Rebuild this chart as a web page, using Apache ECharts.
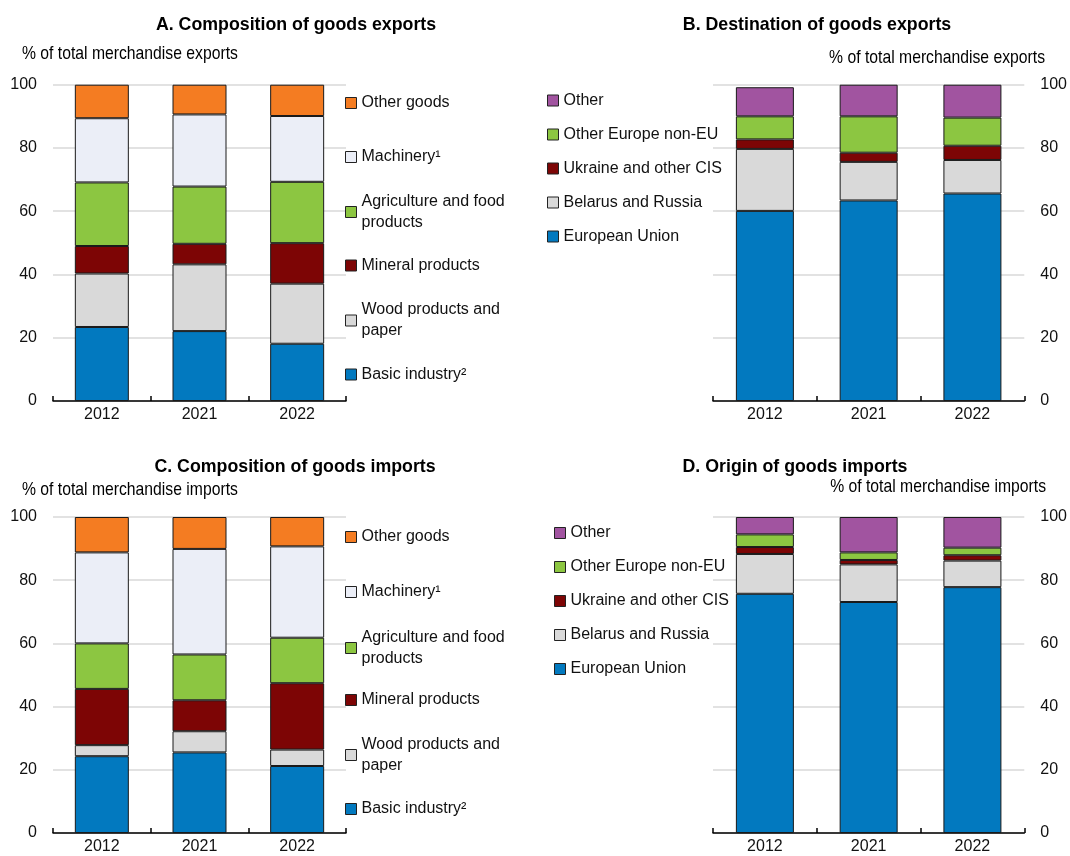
<!DOCTYPE html>
<html>
<head>
<meta charset="utf-8">
<script src="https://cdn.jsdelivr.net/npm/echarts@6/dist/echarts.min.js"></script>
<style>
  html, body { margin: 0; padding: 0; background: #fff; }
  #chart { width: 1070px; height: 856px; }
</style>
</head>
<body>
<div id="chart"></div>
<script>
// Categories
const years = ['2012', '2021', '2022'];
const yTicks = [0, 20, 40, 60, 80, 100];

// A. Composition of goods exports (% of total merchandise exports)
const expBasic = [23.4, 22.1, 18.1];
const expWood = [16.9, 21.1, 19.0];
const expMineral = [8.7, 6.5, 12.8];
const expAgri = [20.1, 18.1, 19.4];
const expMachinery = [20.3, 22.8, 20.8];
const expOtherGoods = [10.6, 9.4, 9.9];

// B. Destination of goods exports
const expEU = [60.1, 63.4, 65.6];
const expBelRus = [19.6, 12.2, 10.6];
const expUkrCIS = [3.0, 2.9, 4.5];
const expOtherEurope = [7.3, 11.5, 8.9];
const expOtherDest = [9.2, 10.0, 10.4];

// C. Composition of goods imports (% of total merchandise imports)
const impBasic = [24.3, 25.5, 21.2];
const impWood = [3.5, 6.7, 5.2];
const impMineral = [17.8, 9.8, 21.0];
const impAgri = [14.4, 14.5, 14.4];
const impMachinery = [28.8, 33.4, 28.9];
const impOtherGoods = [11.2, 10.1, 9.3];

// D. Origin of goods imports
const impEU = [75.7, 73.1, 77.8];
const impBelRus = [12.6, 11.9, 8.4];
const impUkrCIS = [2.2, 1.4, 1.7];
const impOtherEurope = [4.0, 2.4, 2.4];
const impOtherOrig = [5.5, 11.2, 9.7];

// Series names
const goodsNames = ['Basic industry²', 'Wood products and paper', 'Mineral products',
  'Agriculture and food products', 'Machinery¹', 'Other goods'];
const partnerNames = ['European Union', 'Belarus and Russia', 'Ukraine and other CIS',
  'Other Europe non-EU', 'Other'];

const FONT = "'Liberation Sans', Arial, sans-serif";
const FS = 16;          // axis and legend text
const FS_HEAD = 18.5;   // titles and unit notes, drawn condensed
const NARROW_TITLE = 0.96;
const NARROW_NOTE = 0.85;
const TXT = '#111';

const C_BLUE = '#0279bf';
const C_GREY = '#d9d9d9';
const C_RED = '#7d0505';
const C_GREEN = '#8cc641';
const C_LIGHT = '#ebeef7';
const C_ORANGE = '#f47c22';
const C_PURPLE = '#a154a0';

const goodsColors = [C_BLUE, C_GREY, C_RED, C_GREEN, C_LIGHT, C_ORANGE];
const partnerColors = [C_BLUE, C_GREY, C_RED, C_GREEN, C_PURPLE];

const expGoods = [expBasic, expWood, expMineral, expAgri, expMachinery, expOtherGoods];
const expPartners = [expEU, expBelRus, expUkrCIS, expOtherEurope, expOtherDest];
const impGoods = [impBasic, impWood, impMineral, impAgri, impMachinery, impOtherGoods];
const impPartners = [impEU, impBelRus, impUkrCIS, impOtherEurope, impOtherOrig];

// Wrapped legend labels
const wrapped = {
  'Wood products and paper': 'Wood products and\npaper',
  'Agriculture and food products': 'Agriculture and food\nproducts'
};

const chart = echarts.init(document.getElementById('chart'), null, { renderer: 'canvas' });

const grids = [
  { left: 53, top: 84.7, width: 293, height: 316.3 },
  { left: 713, top: 84.7, width: 313, height: 316.3 },
  { left: 53, top: 517, width: 293, height: 316 },
  { left: 713, top: 517, width: 313, height: 316 }
];

function xAxis(gridIndex) {
  return {
    type: 'category', gridIndex, data: years,
    axisLine: { lineStyle: { color: '#000', width: 1.5 } },
    axisTick: { show: true, inside: true, length: 5, lineStyle: { color: '#000', width: 1.5 } },
    axisLabel: { color: TXT, fontFamily: FONT, fontSize: FS, margin: 6 }
  };
}
function yAxis(gridIndex, position) {
  return {
    type: 'value', gridIndex, position, min: yTicks[0], max: yTicks[yTicks.length - 1],
    interval: yTicks[1] - yTicks[0],
    axisLine: { show: false }, axisTick: { show: false },
    splitLine: { lineStyle: { color: '#d9d9d9', width: 1.5 } },
    axisLabel: { color: TXT, fontFamily: FONT, fontSize: FS, margin: 16 }
  };
}

function barSeries(names, colors, values, axisIndex, stack, barWidth) {
  return names.map((name, i) => ({
    name, type: 'bar', stack, xAxisIndex: axisIndex, yAxisIndex: axisIndex,
    barWidth, data: values[i],
    itemStyle: { color: colors[i], borderColor: '#1a1a1a', borderWidth: 1 },
    emphasis: { disabled: true }
  }));
}

const LH = 21;
const legendBase = {
  orient: 'vertical', padding: 0, itemWidth: 11, itemHeight: 11,
  icon: 'rect', selectedMode: false,
  itemStyle: { borderColor: '#222', borderWidth: 1 },
  textStyle: { color: TXT, fontFamily: FONT, fontSize: FS, lineHeight: LH },
  formatter: n => wrapped[n] || n
};

// Composition legends: one per item so each sits beside its own band;
// wrapped items get top padding so the swatch lines up with the first line
function goodsLegends(left, centers) {
  const order = ['Other goods', 'Machinery¹', 'Agriculture and food products',
    'Mineral products', 'Wood products and paper', 'Basic industry²'];
  return order.map((name, i) => {
    const two = !!wrapped[name];
    return Object.assign({}, legendBase, {
      left, top: centers[i] - (two ? LH * 1.5 : LH / 2), data: [name],
      textStyle: Object.assign({}, legendBase.textStyle, two ? { padding: [LH, 0, 0, 0] } : {})
    });
  });
}
function partnerLegend(left, top) {
  return Object.assign({}, legendBase, {
    left, top, itemGap: 13,
    data: ['Other', 'Other Europe non-EU', 'Ukraine and other CIS', 'Belarus and Russia', 'European Union']
  });
}

// Panel titles and unit notes, set in a condensed face
function head(text, x, y, align, bold) {
  return {
    type: 'text', x, y, scaleX: bold ? NARROW_TITLE : NARROW_NOTE, silent: true,
    style: {
      text, fill: '#000', align, verticalAlign: 'middle',
      font: (bold ? 'bold ' : '') + FS_HEAD + 'px ' + FONT
    }
  };
}

const option = {
  backgroundColor: '#fff',
  animation: false,
  grid: grids,
  xAxis: [xAxis(0), xAxis(1), xAxis(2), xAxis(3)],
  yAxis: [yAxis(0, 'left'), yAxis(1, 'right'), yAxis(2, 'left'), yAxis(3, 'right')],
  legend: [
    ...goodsLegends(345, [103, 157, 212, 265.5, 320.5, 374.5]),
    partnerLegend(547, 90),
    ...goodsLegends(345, [537, 592, 648, 700, 755, 809]),
    partnerLegend(554, 522.5)
  ],
  graphic: [
    head('A. Composition of goods exports', 296, 25, 'center', true),
    head('% of total merchandise exports', 22, 54, 'left', false),
    head('B. Destination of goods exports', 817, 25, 'center', true),
    head('% of total merchandise exports', 1045, 58, 'right', false),
    head('C. Composition of goods imports', 295, 467, 'center', true),
    head('% of total merchandise imports', 22, 490, 'left', false),
    head('D. Origin of goods imports', 795, 467, 'center', true),
    head('% of total merchandise imports', 1046, 487, 'right', false)
  ],
  series: [
    ...barSeries(goodsNames, goodsColors, expGoods, 0, 'A', 54),
    ...barSeries(partnerNames, partnerColors, expPartners, 1, 'B', 58),
    ...barSeries(goodsNames, goodsColors, impGoods, 2, 'C', 54),
    ...barSeries(partnerNames, partnerColors, impPartners, 3, 'D', 58)
  ]
};

chart.setOption(option);
</script>
</body>
</html>
